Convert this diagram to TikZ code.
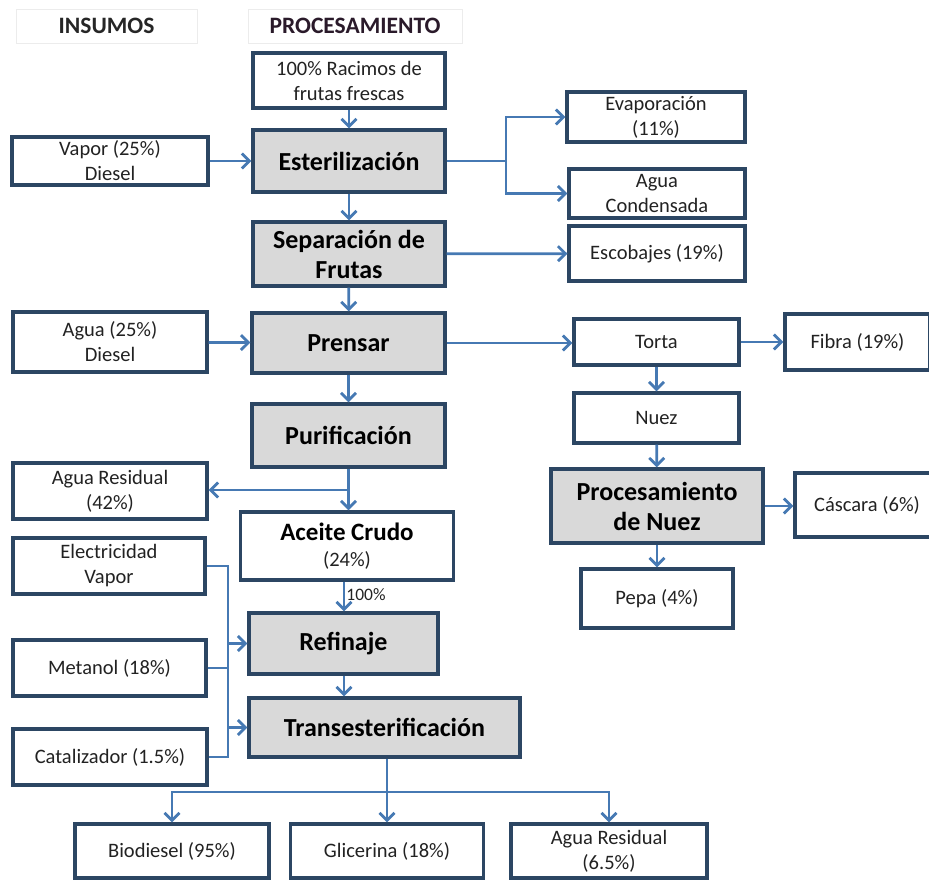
\documentclass[tikz,border=0pt]{standalone}
\usepackage{fontspec}
\setmainfont{Carlito}
\usetikzlibrary{arrows.meta}
\definecolor{bordc}{HTML}{2C4663}
\definecolor{arrc}{HTML}{4679B3}
\definecolor{fillg}{HTML}{D9D9D9}
\definecolor{txtc}{HTML}{222222}
\definecolor{hdrc}{HTML}{2A1A2A}
\begin{document}
\begin{tikzpicture}[x=1pt,y=-1pt,
  sz/.style 2 args={minimum width=#1pt, minimum height=#2pt},
  box/.style={draw=bordc, line width=3.2pt, fill=white, align=center, inner sep=0pt, text=txtc, font=\fontsize{20.5}{25}\selectfont},
  pbox/.style={box, fill=fillg, text=black, font=\fontsize{26}{30}\bfseries\selectfont},
  hdr/.style={draw=gray!15, line width=1pt, fill=white, text=black!85, font=\fontsize{23.5}{27}\bfseries\selectfont, inner sep=0pt},
  ln/.style={draw=arrc, line width=2.8pt},
  arr/.style={ln, -{Straight Barb[length=7.5pt,width=15pt,line width=2.8pt]}},
]
\useasboundingbox (0,0) rectangle (929,879);
% headers
\node[hdr, sz={181}{34}] (hins) at (106.5,26) {INSUMOS};
\node[hdr, sz={214}{34}, text=hdrc] (hproc) at (355,26) {PROCESAMIENTO};
% process column
\node[box, sz={192}{55}] (racimos) at (349,80.5) {100\% Racimos de\\frutas frescas};
\node[pbox, sz={192}{62}] (ester) at (349,161) {Esterilización};
\node[pbox, sz={192}{64}] (separ) at (349,254) {Separación de\\Frutas};
\node[pbox, sz={193}{60}] (prensar) at (348.5,343) {Prensar};
\node[pbox, sz={193}{63}] (purif) at (348.5,435.5) {Purificación};
\node[box, sz={213}{68}, align=center] (aceite) at (347,546) {{\fontsize{25}{28}\bfseries\selectfont\color{black}Aceite Crudo}\\[1pt](24\%)};
\node[pbox, sz={189}{61}] (refin) at (343.5,643.5) {Refinaje};
\node[pbox, sz={271}{59}] (trans) at (384.5,727.5) {Transesterificación};
% inputs
\node[box, sz={196}{48}] (vapor) at (110,161) {Vapor (25\%)\\Diesel};
\node[box, sz={194}{60}] (agua25) at (110,342) {Agua (25\%)\\Diesel};
\node[box, sz={194}{56}] (aguar42) at (110,491) {Agua Residual\\(42\%)};
\node[box, sz={192}{56}] (elec) at (109,566) {Electricidad\\Vapor};
\node[box, sz={193}{56}] (metanol) at (109.5,668) {Metanol (18\%)};
\node[box, sz={194}{56}] (catal) at (110,757) {Catalizador (1.5\%)};
% outputs right
\node[box, sz={178}{50}] (evap) at (656,117) {Evaporación\\(11\%)};
\node[box, sz={176}{49}] (aguac) at (657,193.5) {Agua\\Condensada};
\node[box, sz={176}{55}] (escob) at (657,253.5) {Escobajes (19\%)};
\node[box, sz={165}{46}] (torta) at (656.5,342) {Torta};
\node[box, sz={145}{56}] (fibra) at (857.5,342) {Fibra (19\%)};
\node[box, sz={165}{50}] (nuez) at (656.5,418) {Nuez};
\node[pbox, sz={212}{74}] (procn) at (657,506) {Procesamiento\\de Nuez};
\node[box, sz={144}{64}] (cascara) at (867,505) {Cáscara (6\%)};
\node[box, sz={152}{59}] (pepa) at (657,598.5) {Pepa (4\%)};
% bottom outputs
\node[box, sz={194}{54}] (biod) at (172,851) {Biodiesel (95\%)};
\node[box, sz={193}{54}] (glic) at (387,851) {Glicerina (18\%)};
\node[box, sz={196}{54}] (aguar65) at (609,851) {Agua Residual\\(6.5\%)};
% connectors
\draw[arr] (racimos) -- (ester);
\draw[arr] (vapor) -- (ester);
\coordinate (j1) at (506,161);
\draw[ln] (ester.east) -- (j1);
\draw[arr] (j1) |- (evap.west);
\draw[arr] (j1) |- (aguac.west);
\draw[arr] (ester) -- (separ);
\draw[arr] (separ) -- (escob);
\draw[arr] (separ) -- (prensar);
\draw[arr] (agua25) -- (prensar);
\draw[arr] (prensar) -- (prensar.east -| torta.west);
\draw[arr] (torta) -- (fibra);
\draw[arr] (torta) -- (nuez);
\draw[arr] (nuez) -- (procn);
\draw[arr] (procn) -- (procn.east -| cascara.west);
\draw[arr] (procn) -- (pepa);
\draw[arr] (prensar) -- (purif);
\coordinate (j2) at (348.5,490);
\draw[ln] (purif.south) -- (j2);
\draw[arr] (j2) -- (aceite.north -| j2);
\draw[arr] (j2) -- (j2 -| aguar42.east);
\coordinate (j3) at (344,0);
\draw[arr] (j3 |- aceite.south) -- (j3 |- refin.north) node[pos=0.42, anchor=west, inner sep=1pt, text=txtc, font=\fontsize{17.5}{20}\selectfont] (pct) {100\%};
\draw[arr] (j3 |- refin.south) -- (j3 |- trans.north);
\coordinate (cx) at (228,0);
\draw[ln] (elec.east) -- (elec.east -| cx) -- (catal.east -| cx) -- (catal.east);
\draw[ln] (metanol.east) -- (metanol.east -| cx);
\draw[arr] (refin.west -| cx) -- (refin.west);
\draw[arr] (trans.west -| cx) -- (trans.west);
\coordinate (jb) at (387,792);
\draw[ln] (jb |- trans.south) -- (jb);
\draw[arr] (jb) -- (glic.north);
\draw[arr] (jb) -| (biod.north);
\draw[arr] (jb) -| (aguar65.north);
\end{tikzpicture}
\end{document}
